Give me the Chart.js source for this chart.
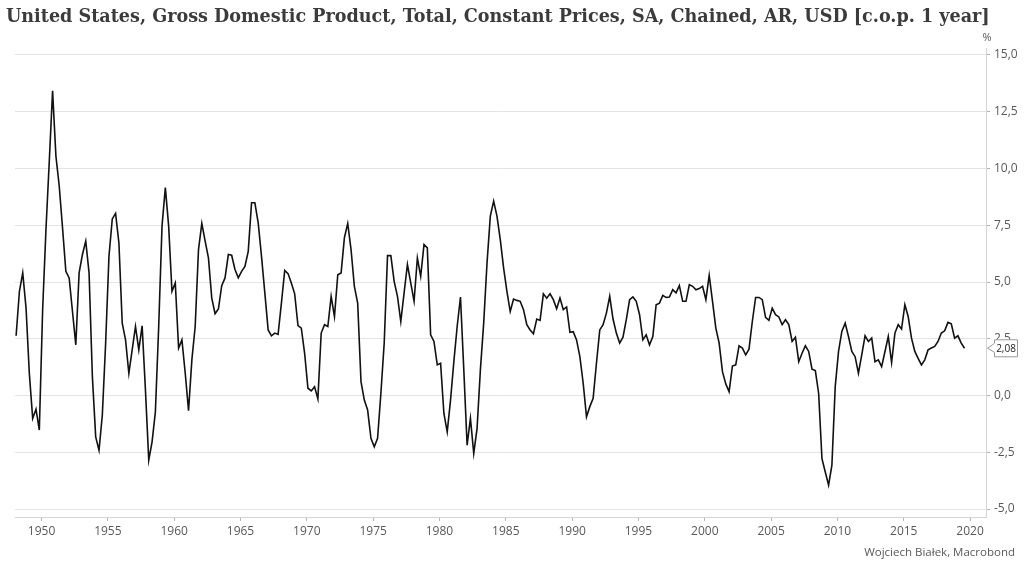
<!DOCTYPE html>
<html>
<head>
<meta charset="utf-8">
<title>US GDP, y/y</title>
<script src="https://cdn.jsdelivr.net/npm/chart.js@4.4.1/dist/chart.umd.min.js"></script>
<style>
    html, body { margin: 0; padding: 0; background: #fff; }
    #wrap { width: 1024px; height: 570px; position: relative; }
</style>
</head>
<body>
<div id="wrap"><canvas id="gdpChart" width="1024" height="570"></canvas></div>
<script>
// Real GDP, % change on same quarter a year earlier, quarterly, first quarter of each block first
const gdp1948to1959 = [
    2.63, 4.59, 5.40, 3.85, 0.94, -1.01, -0.60, -1.52,
    3.77, 7.30, 10.31, 13.42, 10.55, 9.23, 7.39, 5.47,
    5.18, 3.70, 2.23, 5.40, 6.21, 6.80, 5.40, 0.83,
    -1.82, -2.41, -0.86, 2.30, 6.13, 7.78, 8.02, 6.72,
    3.19, 2.45, 0.98, 2.01, 3.04, 2.01, 3.07, 0.24,
    -2.85, -2.04, -0.72, 3.04, 7.46, 9.16, 7.46, 4.59
];
const gdp1960s = [
    4.96, 2.09, 2.45, 0.98, -0.67, 1.57, 3.04, 6.43,
    7.58, 6.80, 6.06, 4.29, 3.60, 3.81, 4.84, 5.18,
    6.21, 6.18, 5.55, 5.18, 5.47, 5.69, 6.35, 8.49,
    8.49, 7.61, 6.13, 4.52, 2.89, 2.63, 2.75, 2.69,
    4.07, 5.51, 5.37, 4.96, 4.48, 3.08, 2.97, 1.86
];
const gdp1970s = [
    0.32, 0.20, 0.39, -0.15, 2.75, 3.12, 3.04, 4.37,
    3.48, 5.32, 5.40, 6.95, 7.58, 6.43, 4.81, 4.07,
    0.61, -0.20, -0.64, -1.89, -2.26, -1.89, 0.10, 2.31,
    6.16, 6.16, 5.03, 4.37, 3.26, 4.52, 5.77, 4.96,
    4.15, 6.06, 5.25, 6.65, 6.50, 2.67, 2.38, 1.35
];
const gdp1980s = [
    1.42, -0.79, -1.60, -0.20, 1.49, 3.04, 4.34, 1.13,
    -2.19, -1.01, -2.55, -1.45, 1.13, 3.19, 5.84, 7.90,
    8.56, 7.90, 6.87, 5.62, 4.59, 3.70, 4.25, 4.19,
    4.15, 3.78, 3.12, 2.89, 2.72, 3.37, 3.31, 4.48,
    4.29, 4.48, 4.22, 3.82, 4.29, 3.78, 3.90, 2.78
];
const gdp1990s = [
    2.81, 2.45, 1.71, 0.54, -0.94, -0.49, -0.12, 1.42,
    2.89, 3.12, 3.63, 4.37, 3.37, 2.75, 2.31, 2.57,
    3.34, 4.22, 4.34, 4.15, 3.56, 2.45, 2.67, 2.23,
    2.60, 4.00, 4.07, 4.41, 4.32, 4.34, 4.66, 4.52,
    4.84, 4.15, 4.15, 4.88, 4.81, 4.66, 4.71, 4.81
];
const gdp2000s = [
    4.22, 5.29, 4.15, 2.97, 2.31, 1.05, 0.51, 0.17,
    1.30, 1.35, 2.19, 2.09, 1.79, 2.04, 3.26, 4.32,
    4.32, 4.22, 3.44, 3.31, 3.85, 3.56, 3.46, 3.12,
    3.34, 3.12, 2.38, 2.57, 1.49, 1.86, 2.19, 1.94,
    1.16, 1.10, 0.10, -2.78, -3.37, -3.95, -3.07, 0.39
];
const gdp2010s = [
    1.94, 2.82, 3.19, 2.60, 1.94, 1.71, 0.98, 1.79,
    2.63, 2.38, 2.53, 1.49, 1.57, 1.27, 1.94, 2.60,
    1.45, 2.75, 3.12, 2.93, 4.00, 3.48, 2.53, 1.94,
    1.64, 1.35, 1.57, 2.01, 2.09, 2.16, 2.38, 2.75,
    2.85, 3.22, 3.16, 2.53, 2.63, 2.31, 2.08
];

const firstYear = 1948;            // series starts 1948 Q1
const yearTicks = [1950, 1955, 1960, 1965, 1970, 1975, 1980, 1985, 1990, 1995, 2000, 2005, 2010, 2015, 2020];
const pctTicks = [-5, -2.5, 0, 2.5, 5, 7.5, 10, 12.5, 15];

const titleText = 'United States, Gross Domestic Product, Total, Constant Prices, SA, Chained, AR, USD [c.o.p. 1 year]';
const sourceText = 'Wojciech Białek, Macrobond';

const gdpValues = [].concat(gdp1948to1959, gdp1960s, gdp1970s, gdp1980s, gdp1990s, gdp2000s, gdp2010s);
// quarters placed at the middle month start
const points = gdpValues.map((v, i) => ({ x: firstYear + i / 4 + 1 / 12, y: v }));

const fmt = (v, d) => v.toFixed(d).replace('.', ',');
const tickFont = { family: '"Open Sans", sans-serif', size: 12 };

// title, unit, source and the last-value callout
const decorations = {
    id: 'decorations',
    afterDraw(chart) {
        const ctx = chart.ctx;
        const area = chart.chartArea;
        ctx.save();

        // the title spans the whole width in the original
        ctx.font = 'bold 20px "DejaVu Serif", serif';
        const size = Math.min(22, 20 * 984 / ctx.measureText(titleText).width);
        ctx.font = 'bold ' + size.toFixed(2) + 'px "DejaVu Serif", serif';
        ctx.fillStyle = '#3b3b3b';
        ctx.textAlign = 'left';
        ctx.textBaseline = 'middle';
        ctx.fillText(titleText, 6, 17);

        ctx.font = '11px "Open Sans", sans-serif';
        ctx.fillStyle = '#595959';
        ctx.textAlign = 'center';
        ctx.fillText('%', area.right + 1, 38);

        ctx.font = '11.5px "Open Sans", sans-serif';
        ctx.textAlign = 'right';
        ctx.fillText(sourceText, 1015, 553);

        // callout box with arrow at the last value
        const meta = chart.getDatasetMeta(0);
        const last = meta.data[meta.data.length - 1];
        const y = last.y;
        const tip = area.right + 1.5;
        const bx = tip + 7, bw = 23, bh = 17;
        ctx.beginPath();
        ctx.moveTo(tip, y);
        ctx.lineTo(bx, y - 5);
        ctx.lineTo(bx, y - bh / 2);
        ctx.lineTo(bx + bw, y - bh / 2);
        ctx.lineTo(bx + bw, y + bh / 2);
        ctx.lineTo(bx, y + bh / 2);
        ctx.lineTo(bx, y + 4);
        ctx.closePath();
        ctx.fillStyle = '#fff';
        ctx.fill();
        ctx.strokeStyle = '#9a9a9a';
        ctx.lineWidth = 1;
        ctx.stroke();

        ctx.font = '10px "Open Sans", sans-serif';
        ctx.fillStyle = '#222';
        ctx.textAlign = 'center';
        ctx.fillText(fmt(gdpValues[gdpValues.length - 1], 2), bx + bw / 2, y + 0.5);

        ctx.restore();
    }
};

new Chart(document.getElementById('gdpChart'), {
    type: 'line',
    data: {
        datasets: [{
            data: points,
            borderColor: '#111',
            borderWidth: 1.6,
            pointRadius: 0,
            tension: 0,
            fill: false
        }]
    },
    options: {
        responsive: false,
        animation: false,
        devicePixelRatio: 1,
        layout: { padding: { left: 15, top: 48, right: 0, bottom: 28 } },
        plugins: {
            legend: { display: false },
            tooltip: { enabled: false },
            title: { display: false }
        },
        scales: {
            x: {
                type: 'linear',
                min: 1948,
                max: 2021.2,
                afterBuildTicks: s => { s.ticks = yearTicks.map(v => ({ value: v })); },
                afterFit: s => { s.height = 25; },
                grid: { drawOnChartArea: false, drawTicks: true, tickLength: 4, color: '#b5b5b5' },
                border: { display: true, color: '#d4d4d4' },
                ticks: {
                    autoSkip: false, maxRotation: 0, padding: 3,
                    font: tickFont, color: '#595959',
                    callback: v => String(v)
                }
            },
            y: {
                position: 'right',
                min: -5.352,
                max: 15.308,
                afterBuildTicks: s => { s.ticks = pctTicks.map(v => ({ value: v })); },
                afterFit: s => { s.width = 38; },
                grid: { color: '#e4e4e4', drawTicks: true, tickLength: 4, tickColor: '#b5b5b5' },
                border: { display: true, color: '#d4d4d4' },
                ticks: {
                    padding: 4, font: tickFont, color: '#595959',
                    callback: v => fmt(v, 1)
                }
            }
        }
    },
    plugins: [decorations]
});
</script>
</body>
</html>
